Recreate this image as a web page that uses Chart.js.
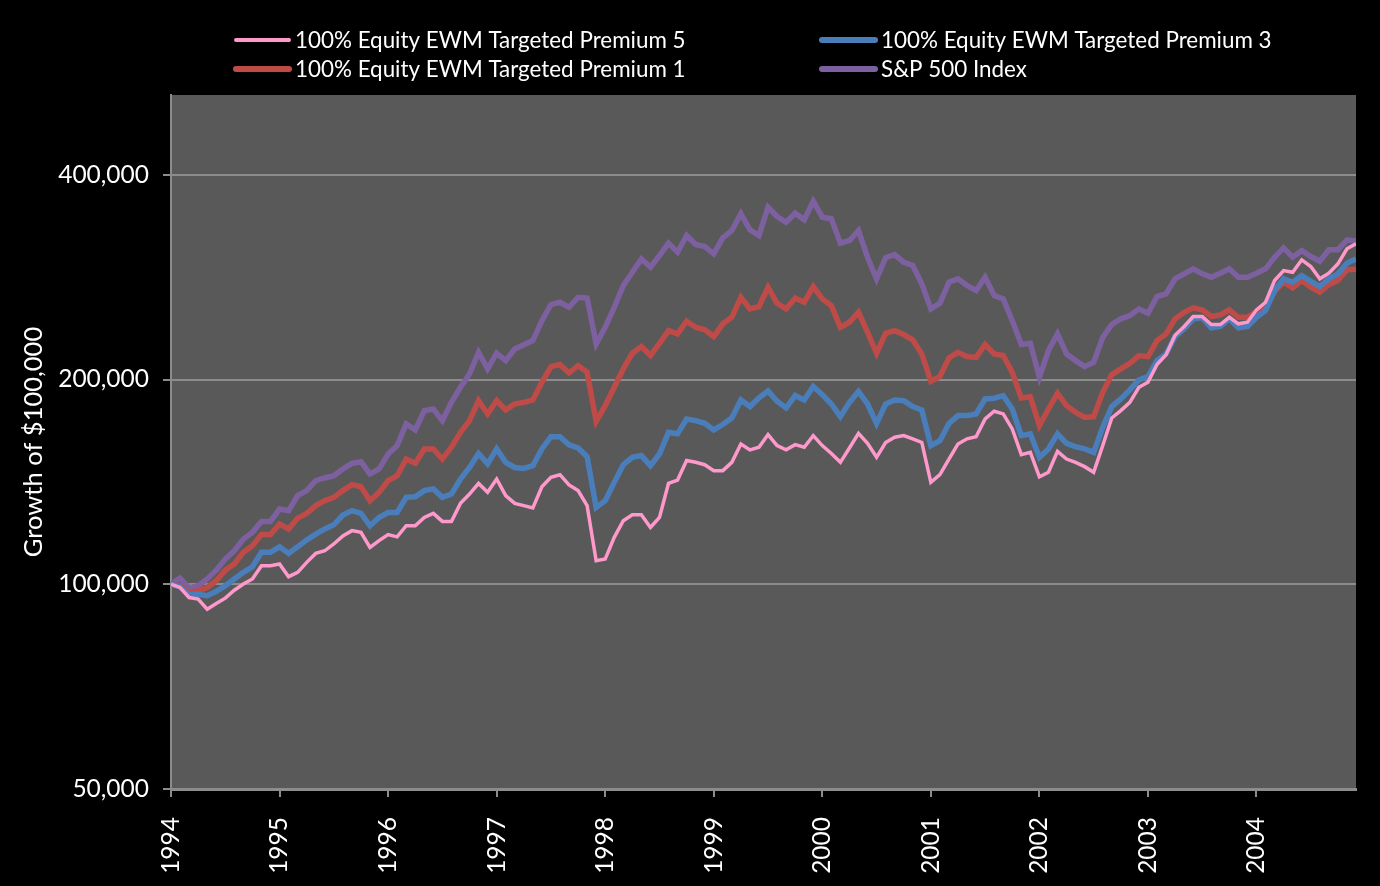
<!DOCTYPE html>
<html>
<head>
<meta charset="utf-8">
<script src="https://cdn.jsdelivr.net/npm/chart.js@4.4.1/dist/chart.umd.min.js"></script>
<style>
  html, body { margin: 0; padding: 0; background: #000; }
  #wrap { position: relative; width: 1380px; height: 886px; background: #000; }
  canvas { display: block; }
</style>
</head>
<body>
<div id="wrap"><canvas id="c" width="1380" height="886"></canvas></div>
<script>
// ---- Data (values in $, monthly, Jan 1994 - Dec 2004) ----
const yearLabels = ['1994','1995','1996','1997','1998','1999','2000','2001','2002','2003','2004'];
const seriesNames = ['100% Equity EWM Targeted Premium 5','100% Equity EWM Targeted Premium 3','100% Equity EWM Targeted Premium 1','S&P 500 Index'];
const yTickValues = [50000, 100000, 200000, 400000];

const premium5 = [
100.0,98.9,95.6,95.1,91.9,93.7,95.4,98.0,100.1,101.8,106.5,106.5,
107.1,102.6,104.1,107.7,111.0,112.0,114.6,117.8,119.9,119.2,113.3,115.9,
118.3,117.4,121.9,121.9,125.4,127.1,123.7,123.7,131.5,135.7,140.7,136.5,
142.8,135.0,131.5,130.5,129.5,139.1,143.6,144.9,140.0,137.3,130.5,108.3,
108.9,117.2,124.0,126.5,126.5,121.2,125.4,140.7,142.3,152.0,151.1,149.9,
146.9,146.9,151.1,160.8,157.6,159.0,166.0,159.9,157.6,160.4,159.0,165.4,
159.9,155.7,151.1,158.6,166.7,161.1,153.7,161.6,164.5,165.4,163.6,161.6,
141.2,144.9,152.8,160.8,163.6,164.8,175.0,179.6,178.0,169.2,155.1,156.3,
143.9,146.1,156.8,152.8,151.1,148.9,146.1,159.9,175.6,180.0,185.1,194.8,
198.1,210.4,217.5,232.3,239.3,247.5,247.5,240.9,240.9,246.9,241.5,242.8,
253.2,259.8,279.6,289.2,287.6,299.9,293.2,281.2,286.6,295.9,311.3,316.6
].map(v => v * 1000);

const premium3 = [
100.0,99.2,96.5,96.7,96.2,97.6,99.5,101.8,104.1,106.1,111.4,111.4,
113.5,111.0,113.5,116.2,118.5,120.6,122.3,126.4,128.3,127.1,121.9,125.4,
127.5,127.5,134.2,134.5,137.3,138.1,134.2,135.7,142.8,148.5,155.7,150.3,
158.1,151.1,148.5,148.0,149.4,158.1,164.8,164.8,160.3,158.6,154.0,129.7,
132.7,141.2,149.9,153.7,154.6,149.4,155.4,167.2,166.4,175.0,174.0,172.4,
168.6,171.7,175.6,186.6,182.5,187.9,192.4,185.8,181.7,189.4,186.6,195.3,
190.0,184.1,176.4,185.1,192.1,184.1,172.4,184.1,186.6,186.2,182.5,180.4,
159.9,162.6,172.4,177.0,177.0,178.0,187.3,187.7,189.4,181.0,165.4,166.4,
153.7,158.1,166.4,161.1,159.3,158.1,156.3,170.1,182.5,187.3,193.1,199.7,
202.0,213.2,218.1,231.3,237.4,245.6,246.4,238.2,239.3,245.6,238.2,239.3,
246.9,252.6,270.3,281.2,278.0,284.4,278.9,274.0,281.2,286.0,296.4,300.9
].map(v => v * 1000);

const premium1 = [
100.0,99.5,97.3,97.8,98.9,101.2,104.9,107.1,111.4,113.9,118.3,118.3,
122.6,120.6,125.1,127.1,130.5,132.7,134.2,137.3,140.1,139.1,132.7,136.5,
142.0,144.4,152.8,150.6,158.1,158.1,152.8,159.0,167.2,174.0,186.2,178.0,
186.2,180.4,184.1,185.1,186.6,198.1,208.9,210.4,204.5,209.6,204.9,173.6,
183.1,194.8,207.3,218.6,223.6,216.9,226.1,236.0,233.4,243.6,238.7,236.6,
231.3,241.5,246.9,264.2,254.0,256.0,273.3,258.9,254.0,263.5,259.8,274.0,
262.8,256.9,238.7,242.8,251.1,234.7,218.6,233.9,236.0,232.9,228.7,218.1,
198.8,202.0,215.2,219.3,216.1,215.6,225.1,218.1,216.9,204.9,187.9,188.7,
171.1,181.0,190.9,183.1,179.0,175.9,176.4,191.5,203.3,207.3,211.3,216.9,
216.1,228.2,233.4,245.6,251.1,254.9,253.2,247.5,248.9,253.2,246.9,246.9,
252.0,256.9,269.6,278.0,272.8,279.6,273.3,268.8,275.8,279.6,290.0,290.5
].map(v => v * 1000);

const sp500 = [
100.0,102.1,98.7,99.5,101.8,104.9,108.9,112.0,116.5,119.2,123.7,123.7,
129.0,128.3,135.0,137.3,142.0,143.3,144.4,147.7,150.6,151.4,145.3,147.7,
155.4,159.9,172.1,168.6,180.0,181.0,174.0,185.1,194.8,203.8,219.3,207.3,
218.6,213.2,221.8,224.9,228.2,244.1,257.8,259.8,255.4,264.2,263.5,225.6,
238.7,255.4,274.9,287.6,300.9,292.5,304.3,317.3,307.7,325.7,315.9,313.8,
306.1,323.1,331.2,350.5,332.0,325.7,358.4,347.3,340.6,351.2,343.4,365.7,
346.5,344.6,317.3,320.2,331.2,302.6,281.2,302.0,305.3,297.5,294.2,276.5,
254.0,258.9,278.0,281.2,274.9,270.3,282.8,265.8,262.8,244.1,225.1,226.1,
201.5,220.6,233.4,218.1,213.2,208.9,212.0,230.7,240.9,245.6,248.3,254.0,
250.3,264.8,267.3,281.2,286.0,290.9,286.0,282.8,286.6,290.9,282.8,282.8,
286.6,290.9,302.6,312.3,302.6,309.5,303.3,298.5,310.3,310.3,320.9,319.5
].map(v => v * 1000);

// ---- Styling ----
const FONT = 'Lato, "Open Sans", sans-serif';
const GRID = '#8c8c8c';
const seriesData = [premium5, premium3, premium1, sp500];
const seriesColors = ['#FF99CC', '#4A7EBB', '#BE4B48', '#7D60A0'];
const seriesWidths = [3.5, 5.5, 5.5, 5.5];
const legendWidths = [4, 6, 6, 6];

const datasets = seriesData.map((arr, k) => ({
  label: seriesNames[k],
  data: arr.map((v, i) => ({ x: i, y: v })),
  borderColor: seriesColors[k],
  backgroundColor: seriesColors[k],
  borderWidth: seriesWidths[k],
  pointRadius: 0,
  tension: 0,
  fill: false
}));

const plotBg = {
  id: 'plotBg',
  beforeDraw(chart) {
    const { ctx, chartArea: a } = chart;
    ctx.save();
    ctx.fillStyle = '#595959';
    ctx.fillRect(a.left, a.top, a.right - a.left, a.bottom - a.top);
    ctx.restore();
  }
};

const customLegend = {
  id: 'customLegend',
  afterDraw(chart) {
    const ctx = chart.ctx;
    const colX = [236, 822];
    const rowY = [40, 69];
    ctx.save();
    ctx.font = '22.4px ' + FONT;
    ctx.textBaseline = 'middle';
    ctx.textAlign = 'left';
    chart.data.datasets.forEach((ds, k) => {
      const x0 = colX[k % 2];
      const y = rowY[Math.floor(k / 2)];
      ctx.strokeStyle = ds.borderColor;
      ctx.lineWidth = legendWidths[k];
      ctx.lineCap = 'round';
      ctx.beginPath();
      ctx.moveTo(x0, y);
      ctx.lineTo(x0 + 53, y);
      ctx.stroke();
      ctx.fillStyle = '#ffffff';
      ctx.fillText(ds.label, x0 + 59, y + 1);
    });
    ctx.restore();
  }
};

new Chart(document.getElementById('c'), {
  type: 'line',
  data: { datasets },
  plugins: [plotBg, customLegend],
  options: {
    responsive: false,
    animation: false,
    layout: { padding: { left: 0, right: 24, top: 95, bottom: 0 } },
    plugins: { legend: { display: false }, tooltip: { enabled: false } },
    scales: {
      x: {
        type: 'linear',
        min: 0,
        max: 131,
        afterBuildTicks: s => { s.ticks = yearLabels.map((_, k) => ({ value: k * 12 })); },
        afterFit: s => { s.height = 97; },
        ticks: {
          autoSkip: false,
          maxRotation: 90,
          minRotation: 90,
          color: '#ffffff',
          font: { family: FONT, size: 24.5 },
          padding: 20,
          callback: v => yearLabels[Math.round(v / 12)]
        },
        grid: { display: true, drawOnChartArea: false, drawTicks: true, tickLength: 8, color: GRID, lineWidth: 2 },
        border: { display: true, color: GRID, width: 3 }
      },
      y: {
        type: 'logarithmic',
        min: 50000,
        max: 524000,
        afterBuildTicks: s => { s.ticks = yTickValues.map(v => ({ value: v })); },
        afterFit: s => { s.width = 171; },
        ticks: {
          color: '#ffffff',
          font: { family: FONT, size: 24.5 },
          padding: 14,
          callback: v => Number(v).toLocaleString('en-US')
        },
        grid: { color: GRID, lineWidth: 2, drawTicks: true, tickLength: 8 },
        border: { display: true, color: GRID, width: 2 },
        title: {
          display: true,
          text: 'Growth of $100,000',
          color: '#ffffff',
          font: { family: FONT, size: 25.5 },
          padding: { top: 18, bottom: 0 }
        }
      }
    }
  }
});
</script>
</body>
</html>
